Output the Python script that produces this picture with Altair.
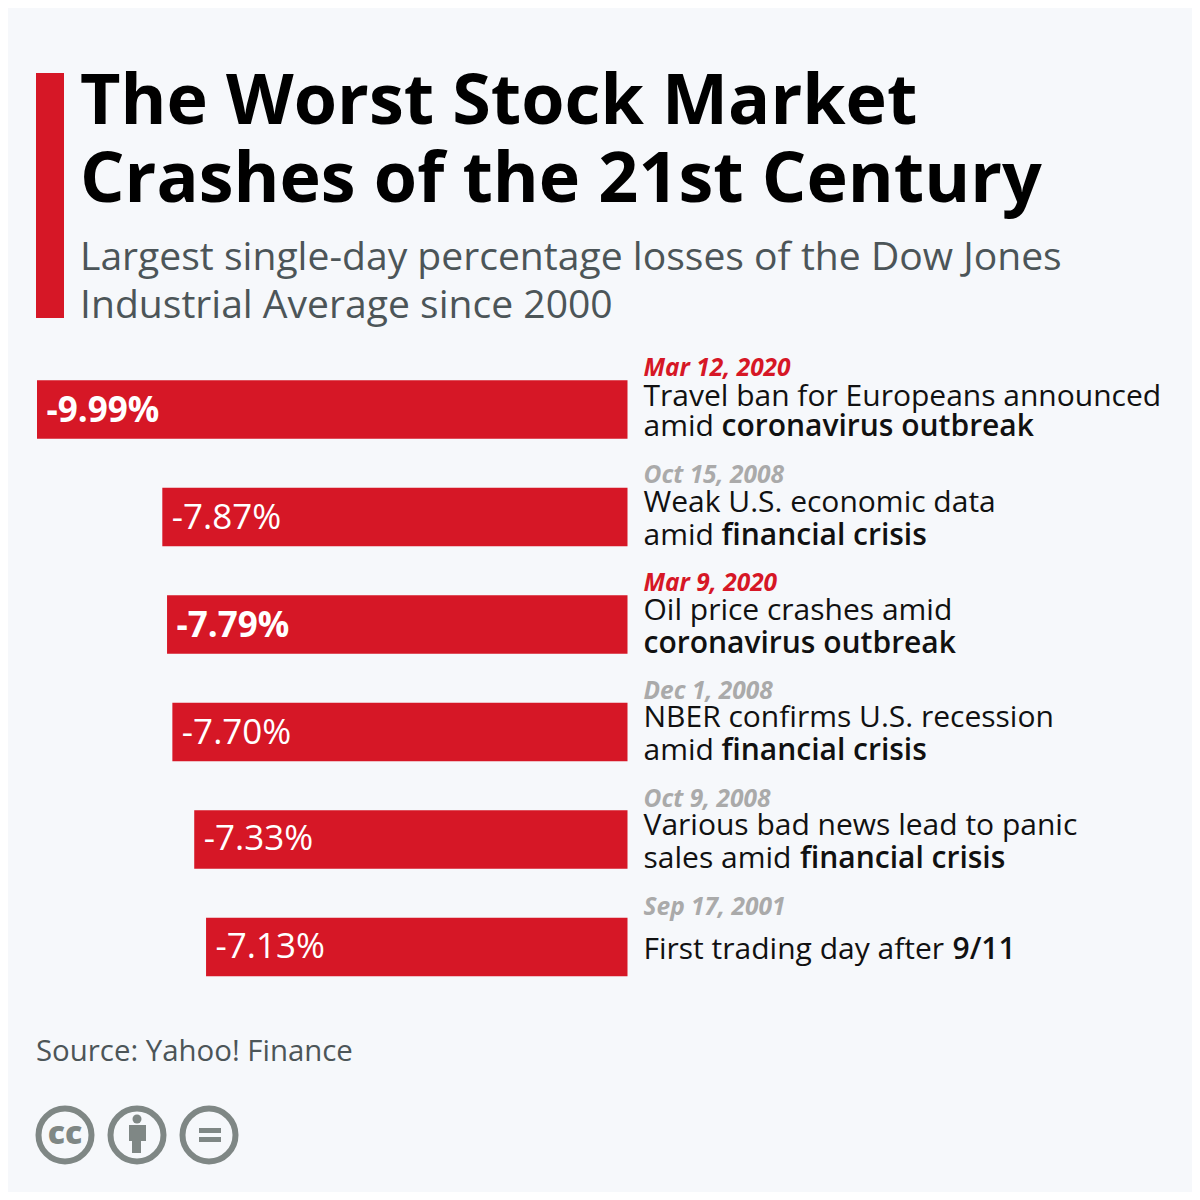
import altair as alt
import pandas as pd

# ---- values
dates = ["Mar 12, 2020", "Oct 15, 2008", "Mar 9, 2020", "Dec 1, 2008", "Oct 9, 2008", "Sep 17, 2001"]
losses = [-9.99, -7.87, -7.79, -7.70, -7.33, -7.13]
highlight = [True, False, True, False, False, False]

line_segments = [
    [("Travel ban for Europeans announced", False)],
    [("amid ", False), ("coronavirus outbreak", True)],
    [("Weak U.S. economic data", False)],
    [("amid ", False), ("financial crisis", True)],
    [("Oil price crashes amid", False)],
    [("coronavirus outbreak", True)],
    [("NBER confirms U.S. recession", False)],
    [("amid ", False), ("financial crisis", True)],
    [("Various bad news lead to panic", False)],
    [("sales amid ", False), ("financial crisis", True)],
    [("First trading day after ", False), ("9/11", True)],
]
title_lines = ["The Worst Stock Market", "Crashes of the 21st Century"]
subtitle_lines = ["Largest single-day percentage losses of the Dow Jones", "Industrial Average since 2000"]
source = "Source: Yahoo! Finance"

# ---- layout (reference pixels; the page adds 8px)
OFF = 8
BG = "#f6f8fb"
RED = "#d61726"
GREY = "#7f8785"
FONT = "Open Sans"
line_x = [[643.5], [643.5, 721.5], [643.5], [643.5, 721.5], [643.5], [643.5], [643.5], [643.5, 721.5], [643.5], [643.5, 800], [643.5, 952.5]]
line_base = [406, 436, 512, 545, 620, 653, 727, 760, 835, 868, 959]
date_dy = [-34, -34, -34, -33, -33, -32]
value_dy = [12, 12, 12, 12, 10.5, 11]

one = pd.DataFrame({"a": [0]})
df = pd.DataFrame({"date": dates, "loss": losses, "hl": highlight})
df["vlabel"] = [f"{v:.2f}%" for v in losses]

def text(s, x, y, size, color, weight="normal", style="normal", align="left", baseline="alphabetic"):
    return alt.Chart(pd.DataFrame({"t": [s]})).mark_text(
        font=FONT, fontSize=size, fontWeight=weight, fontStyle=style, color=color,
        align=align, baseline=baseline
    ).encode(text="t:N", x=alt.value(x - OFF), y=alt.value(y - OFF))

def rect(x0, x1, y0, y1, color):
    return alt.Chart(one).mark_rect(color=color).encode(
        x=alt.value(x0 - OFF), x2=alt.value(x1 - OFF), y=alt.value(y0 - OFF), y2=alt.value(y1 - OFF))

def ring(cx, cy, r, color, filled=False, sw=6):
    m = alt.Chart(one).mark_point(shape="circle", size=(2 * r) ** 2, filled=filled,
                                  color=color, opacity=1, strokeWidth=0 if filled else sw)
    return m.encode(x=alt.value(cx - OFF), y=alt.value(cy - OFF))

xs = alt.Scale(domain=[-9.99, 0], range=[37 - OFF, 627.5 - OFF])
ys = alt.Scale(domain=dates, range=[355.75 - OFF, 1000.75 - OFF], paddingInner=0.455, paddingOuter=0.2275)
X = alt.X("loss:Q", scale=xs, axis=None)
Y = alt.Y("date:N", scale=ys, axis=None, sort=None)

bars = alt.Chart(df).mark_bar(color=RED, cornerRadius=0).encode(x=X, x2=alt.datum(0), y=Y)

def value_label(i):
    return alt.Chart(df.iloc[[i]]).mark_text(
        font=FONT, fontSize=35, fontWeight="bold" if highlight[i] else "normal", color="white", align="left",
        baseline="alphabetic", dx=9.5, dy=value_dy[i]).encode(x=X, y=Y, text="vlabel:N")

def date_label(i):
    return alt.Chart(df.iloc[[i]]).mark_text(
        font=FONT, fontSize=24.5, fontWeight="bold", fontStyle="italic",
        color=RED if highlight[i] else "#aaaaaa", align="left",
        baseline="alphabetic", dy=date_dy[i]).encode(x=alt.value(643.5 - OFF), y=Y, text="date:N")

layers = [rect(36, 64, 73, 318, RED)]
for s, b in zip(title_lines, [123.5, 202]):
    layers.append(text(s, 80, b, 70, "#000000", weight="bold"))
for s, b in zip(subtitle_lines, [270, 318]):
    layers.append(text(s, 80, b, 39.1, "#4c5558"))
layers.append(bars)
layers += [value_label(i) for i in range(6)]
layers += [date_label(i) for i in range(6)]
for segs, xp, b in zip(line_segments, line_x, line_base):
    for (s, bold), x in zip(segs, xp):
        layers.append(text(s, x, b, 30, "#111111", weight=600 if bold else "normal"))
layers.append(text(source, 36, 1061, 29.4, "#4c5558"))

# licence icons
for cx in [65, 137, 209]:
    layers.append(ring(cx, 1135, 26.5, GREY))
layers.append(text("cc", 65, 1144, 32, GREY, weight=800, align="center"))
layers.append(ring(137, 1119, 4.5, GREY, filled=True))
layers.append(rect(129, 146, 1125, 1141, GREY))
layers.append(rect(132, 141, 1141, 1153, GREY))
layers.append(rect(199, 221, 1128, 1133, GREY))
layers.append(rect(199, 221, 1137, 1142, GREY))

chart = alt.layer(*layers).properties(
    width=1184, height=1184, padding=0, background=BG, autosize="none"
).configure_view(stroke=None)

chart.save("out.html", embed_options={"renderer": "svg", "actions": False})
